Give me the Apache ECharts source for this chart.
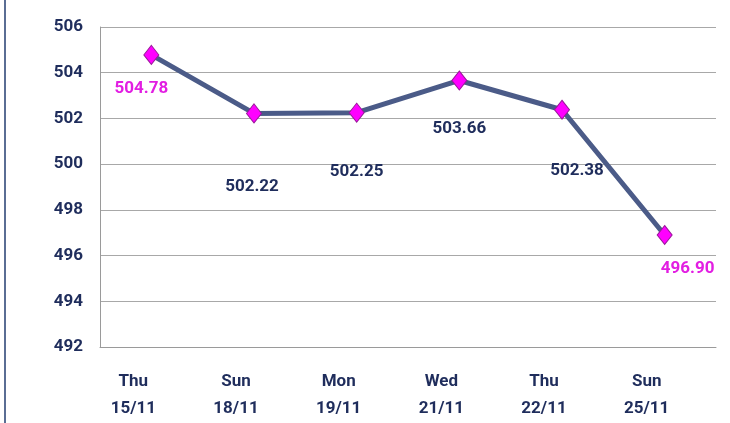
<!DOCTYPE html>
<html>
<head>
<meta charset="utf-8">
<script src="https://cdn.jsdelivr.net/npm/echarts@6/dist/echarts.min.js"></script>
<style>
  html, body { margin: 0; padding: 0; background: #fff; }
  #wrap { position: relative; width: 730px; height: 423px; }
  #edge { position: absolute; left: 4px; top: 0; width: 2px; height: 423px; background: #5a6d94; }
  #chart { position: absolute; left: 0; top: 0; width: 730px; height: 423px; }
</style>
</head>
<body>
<div id="wrap">
  <div id="edge"></div>
  <div id="chart"></div>
</div>
<script>
// ngày
const days = ['Thu\n15/11', 'Sun\n18/11', 'Mon\n19/11', 'Wed\n21/11', 'Thu\n22/11', 'Sun\n25/11'];
// giá trị
const values = [504.78, 502.22, 502.25, 503.66, 502.38, 496.90];
// nhãn hiển thị
const valueLabels = ['504.78', '502.22', '502.25', '503.66', '502.38', '496.90'];
const labelColors = ['#e21ee2', '#1f2d5c', '#1f2d5c', '#1f2d5c', '#1f2d5c', '#e21ee2'];
const labelOffsets = [[-10, 34], [-2, 73], [0, 59], [0, 48], [15, 61], [23, 34]];

const font = 'Roboto, "DejaVu Sans Condensed", sans-serif';
const navy = '#1f2d5c';

let myChart = echarts.init(document.getElementById('chart'));
myChart.setOption({
  animation: false,
  grid: { left: 100, right: 14, top: 27, bottom: 76 },
  xAxis: {
    type: 'category',
    data: days,
    boundaryGap: true,
    axisLine: { show: true, lineStyle: { color: '#9a9a9a', width: 1 } },
    axisTick: { show: false },
    axisLabel: {
      color: navy, fontFamily: font, fontWeight: 'bold', fontSize: 17,
      lineHeight: 27, margin: 21, padding: [0, 36, 0, 0]
    }
  },
  yAxis: {
    type: 'value',
    min: 492, max: 506, interval: 2,
    axisLine: { show: true, lineStyle: { color: '#9a9a9a', width: 1 } },
    axisTick: { show: false },
    splitLine: { lineStyle: { color: '#a8a8a8', width: 1 } },
    axisLabel: {
      color: navy, fontFamily: font, fontWeight: 'bold', fontSize: 17, margin: 17
    }
  },
  series: [{
    type: 'line',
    data: values.map((v, i) => ({
      value: v,
      label: {
        show: true,
        position: 'inside',
        offset: labelOffsets[i],
        formatter: valueLabels[i],
        color: labelColors[i],
        fontFamily: font, fontWeight: 'bold', fontSize: 17
      }
    })),
    lineStyle: { color: '#4b5b88', width: 5 },
    symbol: 'diamond',
    symbolSize: [15, 19],
    itemStyle: { color: '#ff00ff', borderColor: '#9a1a9a', borderWidth: 1 },
    z: 3
  }]
});
</script>
</body>
</html>
